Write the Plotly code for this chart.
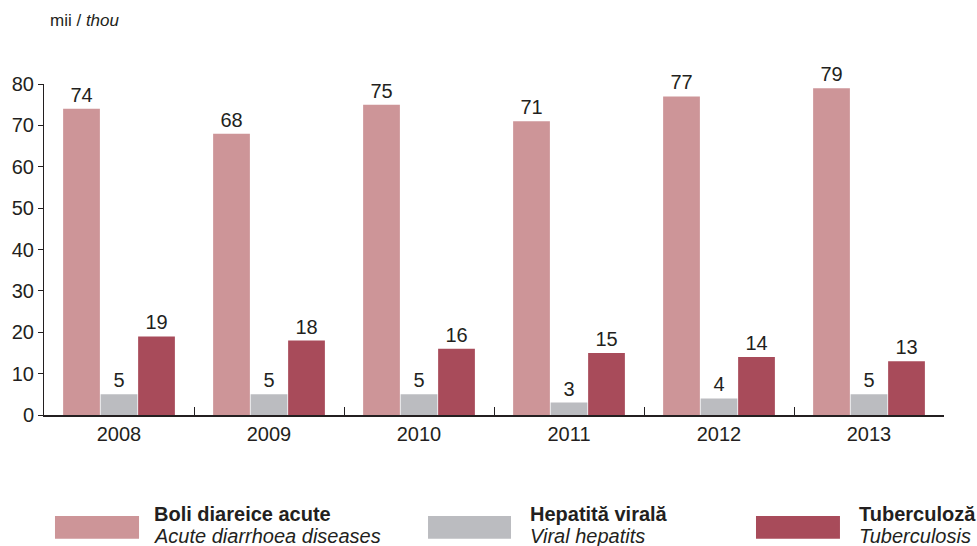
import plotly.graph_objects as go

years = ["2008", "2009", "2010", "2011", "2012", "2013"]
diarrhoea = [74, 68, 75, 71, 77, 79]
hepatitis = [5, 5, 5, 3, 4, 5]
tuberculosis = [19, 18, 16, 15, 14, 13]

series_ro = ["Boli diareice acute", "Hepatită virală", "Tuberculoză"]
series_en = ["Acute diarrhoea diseases", "Viral hepatits", "Tuberculosis"]
colors = ["#CD9598", "#BBBCC0", "#A84B5A"]

FONT = "Liberation Sans, Arial, sans-serif"
INK = "#231F20"

fig = go.Figure()
for vals, name, col in zip([diarrhoea, hepatitis, tuberculosis], series_ro, colors):
    fig.add_trace(go.Bar(
        x=years, y=vals, name=name, marker=dict(color=col, line=dict(width=0)),
        text=[str(v) for v in vals], textposition="outside",
        textfont=dict(family=FONT, size=20, color=INK),
        cliponaxis=False, constraintext="none", showlegend=False,
    ))

fig.update_layout(
    width=977, height=546,
    margin=dict(l=44, r=33, t=84, b=131),
    paper_bgcolor="white", plot_bgcolor="white",
    barmode="group", bargap=0.25, bargroupgap=0.02,
    uniformtext=dict(minsize=20, mode="show"),
    font=dict(family=FONT, color=INK, size=20),
)
fig.update_yaxes(
    range=[0, 80], tickvals=[0, 10, 20, 30, 40, 50, 60, 70, 80],
    showgrid=False, zeroline=False, showline=True, linecolor=INK, linewidth=1,
    ticks="outside", ticklen=5, tickcolor=INK, automargin=False,
    tickfont=dict(family=FONT, size=20, color=INK),
)
fig.update_xaxes(
    showgrid=False, showline=True, linecolor=INK, linewidth=1.5,
    ticks="inside", tickson="boundaries", ticklen=8, tickcolor=INK, automargin=False,
    tickfont=dict(family=FONT, size=20, color=INK),
)

# unit label
fig.add_annotation(x=0.0044, y=1.193, xref="paper", yref="paper", xanchor="left", yanchor="middle",
                   text="mii / <i>thou</i>", showarrow=False,
                   font=dict(family=FONT, size=17, color=INK))

# custom legend
rects = [(0.0122, 0.1056), (0.4267, 0.5189), (0.7911, 0.8844)]
text_x = [0.1196, 0.5378, 0.9037]
for (x0, x1), tx, ro, en, col in zip(rects, text_x, series_ro, series_en, colors):
    fig.add_shape(type="rect", xref="paper", yref="paper", x0=x0, x1=x1, y0=-0.3737, y1=-0.3051,
                  fillcolor=col, line=dict(width=0))
    fig.add_annotation(x=tx, y=-0.3006, xref="paper", yref="paper", xanchor="left", yanchor="middle",
                       text="<b>" + ro + "</b>", showarrow=False,
                       font=dict(family=FONT, size=20, color=INK))
    fig.add_annotation(x=tx, y=-0.367, xref="paper", yref="paper", xanchor="left", yanchor="middle",
                       text="<i>" + en + "</i>", showarrow=False,
                       font=dict(family=FONT, size=20, color=INK))

fig.write_html("out.html", config={"displayModeBar": False},
               post_script="document.body.style.margin='0';document.body.style.overflow='hidden';")
